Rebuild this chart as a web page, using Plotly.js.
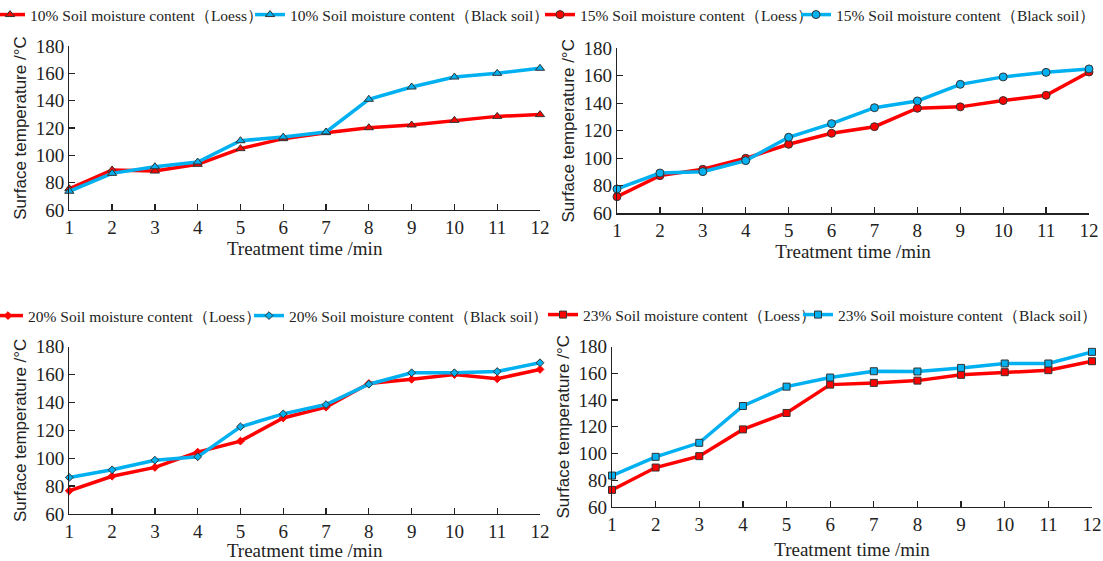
<!DOCTYPE html>
<html>
<head>
<meta charset="utf-8">
<script src="https://cdn.plot.ly/plotly-3.0.1.min.js"></script>
<style>html,body{margin:0;padding:0;background:#fff}#chart{width:1103px;height:561px}</style>
</head>
<body>
<div id="chart"></div>
<script>
// Treatment time (min)
const time = [1, 2, 3, 4, 5, 6, 7, 8, 9, 10, 11, 12];
const tickVals = [1, 2, 3, 4, 5, 6, 7, 8, 9, 10, 11, 12];

// Surface temperature (°C)
const loess10 = [75.6, 89.3, 88.5, 93.4, 104.9, 112.2, 116.6, 120.2, 122.2, 125.6, 128.5, 129.8];
const black10 = [73.7, 86.8, 91.7, 95.1, 110.7, 113.4, 117.1, 141.0, 150.0, 157.3, 160.0, 163.7];
const loess15 = [72.1, 87.4, 92.0, 100.0, 110.2, 118.2, 123.0, 136.4, 137.4, 142.0, 145.8, 162.8];
const black15 = [77.7, 89.3, 90.3, 98.3, 115.3, 125.2, 136.8, 141.7, 153.8, 159.2, 162.5, 165.0];
const loess20 = [76.6, 87.1, 93.4, 104.4, 112.3, 128.9, 136.6, 153.6, 156.6, 160.0, 157.0, 163.7];
const black20 = [86.2, 91.7, 98.6, 101.0, 122.6, 131.8, 138.5, 153.1, 161.3, 161.3, 162.2, 168.5];
const loess23 = [72.8, 89.5, 98.0, 118.0, 130.3, 151.5, 152.8, 154.5, 158.8, 160.8, 162.3, 169.0];
const black23 = [83.5, 97.5, 108.0, 135.5, 150.0, 156.8, 161.5, 161.3, 164.0, 167.3, 167.3, 176.0];

const names = [
  ["10% Soil moisture content（Loess）", "10% Soil moisture content（Black soil）"],
  ["15% Soil moisture content（Loess）", "15% Soil moisture content（Black soil）"],
  ["20% Soil moisture content（Loess）", "20% Soil moisture content（Black soil）"],
  ["23% Soil moisture content（Loess）", "23% Soil moisture content（Black soil）"]
];
const xTitle = "Treatment time /min";
const yTitle = "Surface temperature /°C";

const RED = "#ff0000", BLUE = "#00b0f0", EDGE = "#333333";
const SERIF = "Liberation Serif, Times New Roman, serif";
const SANS = "Liberation Sans, Arial, sans-serif";
const W = 1103, H = 561;

// layout boxes in pixels; legend text start x for each entry and legend row y
const panels = [
  {lo: loess10, bl: black10, sym: "triangle-up", size: 8, x: [69.3, 540], y: [46, 210], legX: [30, 290], legY: 15, xso: 0},
  {lo: loess15, bl: black15, sym: "circle", size: 8, x: [617, 1089], y: [48.3, 213.3], legX: [580, 836], legY: 15, xso: 0},
  {lo: loess20, bl: black20, sym: "diamond", size: 6, x: [69.3, 540], y: [346.7, 514], legX: [28, 289], legY: 316, xso: 0},
  {lo: loess23, bl: black23, sym: "square", size: 7, x: [612, 1092], y: [346.5, 507], legX: [583, 838], legY: 315, xso: 8}
];

const data = [];
const layout = {
  width: W, height: H,
  margin: {l: 0, r: 0, t: 0, b: 0, autoexpand: false},
  paper_bgcolor: "#fff", plot_bgcolor: "#fff",
  font: {family: SERIF, color: "#222", size: 15.5},
  showlegend: true
};

let legCount = 0;
function addLegend(px, py) {
  legCount += 1;
  const id = legCount === 1 ? "legend" : "legend" + legCount;
  layout[id] = {
    orientation: "h", x: (px - 40) / W, y: 1 - py / H,
    xanchor: "left", yanchor: "middle",
    font: {family: SERIF, size: 15.5, color: "#222"},
    bgcolor: "rgba(0,0,0,0)", borderwidth: 0, itemwidth: 30,
    itemclick: false, itemdoubleclick: false
  };
  return id;
}

panels.forEach((p, i) => {
  const n = i === 0 ? "" : String(i + 1);
  const xa = "x" + n, ya = "y" + n;
  data.push({
    x: time, y: p.lo, xaxis: xa, yaxis: ya, legend: addLegend(p.legX[0], p.legY), name: names[i][0],
    type: "scatter", mode: "lines+markers", cliponaxis: false,
    line: {color: RED, width: 3.5},
    marker: {symbol: p.sym, size: p.size, color: RED, line: {color: i === 2 ? RED : EDGE, width: 1}}
  });
  data.push({
    x: time, y: p.bl, xaxis: xa, yaxis: ya, legend: addLegend(p.legX[1], p.legY), name: names[i][1],
    type: "scatter", mode: "lines+markers", cliponaxis: false,
    line: {color: BLUE, width: 3.5},
    marker: {symbol: p.sym, size: p.size, color: BLUE, line: {color: EDGE, width: 1}}
  });
  const axCommon = {
    showline: true, linecolor: "#222", linewidth: 1.3, mirror: false,
    showgrid: false, zeroline: false,
    ticks: "inside", ticklen: 6, tickwidth: 1.3, tickcolor: "#222",
    tickfont: {family: SERIF, size: 19, color: "#222"}
  };
  layout["xaxis" + n] = Object.assign({}, axCommon, {
    domain: [p.x[0] / W, p.x[1] / W], anchor: ya,
    range: [1, 12], tickmode: "array", tickvals: tickVals,
    title: {text: xTitle, font: {family: SERIF, size: 19, color: "#222"}, standoff: p.xso}
  });
  layout["yaxis" + n] = Object.assign({}, axCommon, {
    domain: [1 - p.y[1] / H, 1 - p.y[0] / H], anchor: xa,
    range: [60, 180], dtick: 20,
    title: {text: yTitle, font: {family: SANS, size: 17, color: "#222"}, standoff: 4}
  });
});

Plotly.newPlot("chart", data, layout, {displayModeBar: false, staticPlot: true});
</script>
</body>
</html>
